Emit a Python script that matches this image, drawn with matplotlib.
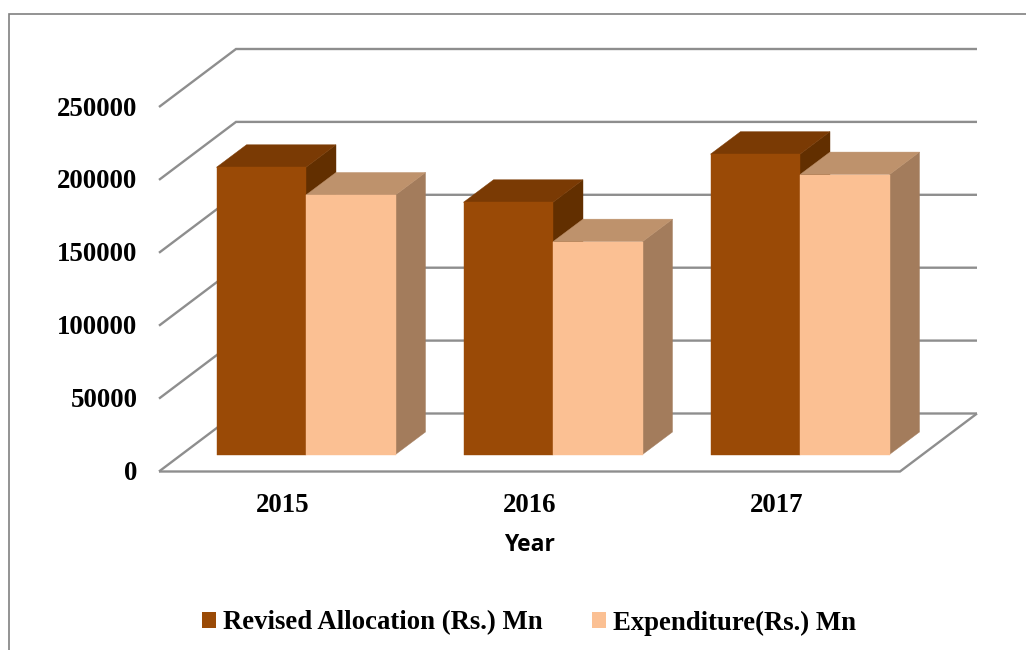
import matplotlib
matplotlib.use("Agg")
import matplotlib.pyplot as plt
from matplotlib.patches import Polygon, Patch
from matplotlib.lines import Line2D

years = ["2015", "2016", "2017"]
series_names = ["Revised Allocation (Rs.) Mn", "Expenditure(Rs.) Mn"]
allocation = [197000, 173000, 206000]
expenditure = [178000, 146000, 192000]
y_ticks = [0, 50000, 100000, 150000, 200000, 250000]

W, H = 1026, 650
fig = plt.figure(figsize=(W / 100, H / 100), dpi=100, facecolor="white")

# front plane of the pseudo-3D box
L, R, B, T = 159, 900, 471.5, 107
ax = fig.add_axes([L / W, 1 - B / H, (R - L) / W, (B - T) / H])
ax.set_xlim(0, 3)
ax.set_ylim(0, 250000)
ax.axis("off")

ux = (R - L) / 3            # px per category
uy = (B - T) / 250000       # px per value unit
def px(dx, dy):
    """pixel offset (right, up) into data units"""
    return dx / ux, dy / uy

GRID = "#8e8e8e"
LW = 1.7
wx, wy = px(77, 58)

# walls and floor
for v in y_ticks:
    ax.plot([0, wx, 3 + wx], [v, v + wy, v + wy], color=GRID, lw=LW,
            clip_on=False, zorder=1, solid_capstyle="butt", solid_joinstyle="miter")
ax.plot([0, 3, 3 + wx], [0, 0, wy], color=GRID, lw=LW, clip_on=False, zorder=1,
        solid_capstyle="butt", solid_joinstyle="miter")

# bars
bar_w = px(89.5, 0)[0]
off_x, off_y = px(23.5, 17)
dx, dy = px(30, 22.5)
styles = [
    ("#9A4A06", "#7A3A04", "#622F00"),
    ("#FBC093", "#BE926C", "#A37C5C"),
]
def bar3d(x0, v, cols, z):
    x1 = x0 + bar_w
    y0 = off_y
    y1 = off_y + v
    front, top, side = cols
    for pts, c in [
        ([(x1, y0), (x1 + dx, y0 + dy), (x1 + dx, y1 + dy), (x1, y1)], side),
        ([(x0, y1), (x1, y1), (x1 + dx, y1 + dy), (x0 + dx, y1 + dy)], top),
        ([(x0, y0), (x1, y0), (x1, y1), (x0, y1)], front),
    ]:
        ax.add_patch(Polygon(pts, closed=True, facecolor=c, edgecolor=c, lw=0.3,
                             clip_on=False, zorder=z))

for i, (a, e) in enumerate(zip(allocation, expenditure)):
    centre = i + 0.5 + off_x
    bar3d(centre - bar_w, a, styles[0], 3 + i * 2)
    bar3d(centre, e, styles[1], 4 + i * 2)

serif = "Liberation Serif"
# y tick labels
for v in y_ticks:
    ax.text(px(-21.5, 0)[0], v + px(0, -2)[1], str(v), ha="right", va="center", family=serif,
            weight="bold", fontsize=19.4, color="black", clip_on=False)
# x tick labels
for i, y in enumerate(years):
    ax.text(i + 0.5, px(0, -34)[1], y, ha="center", va="center", family=serif,
            weight="bold", fontsize=19.4, color="black", clip_on=False)
# axis title
fig.text(529 / W, 1 - 545 / H, "Year", ha="center", va="center", family="Open Sans",
         weight="bold", fontsize=16.5, color="black")

# legend
handles = [Patch(facecolor=styles[0][0], edgecolor="none", label=series_names[0]),
           Patch(facecolor=styles[1][0], edgecolor="none", label=series_names[1])]
fig.legend(handles=handles, loc="center", bbox_to_anchor=(529 / W, 1 - 623 / H), ncol=2,
           frameon=False, handlelength=0.52, handleheight=0.55, handletextpad=0.24,
           columnspacing=1.87, borderpad=0, prop={"family": serif, "weight": "bold", "size": 19.3})

# outer frame
fig.add_artist(Line2D([8.5 / W, 8.5 / W, 1], [0, 1 - 13.5 / H, 1 - 13.5 / H], color="#808080",
                      lw=1.2, transform=fig.transFigure, solid_joinstyle="miter"))

fig.savefig("out.png", dpi=100)
